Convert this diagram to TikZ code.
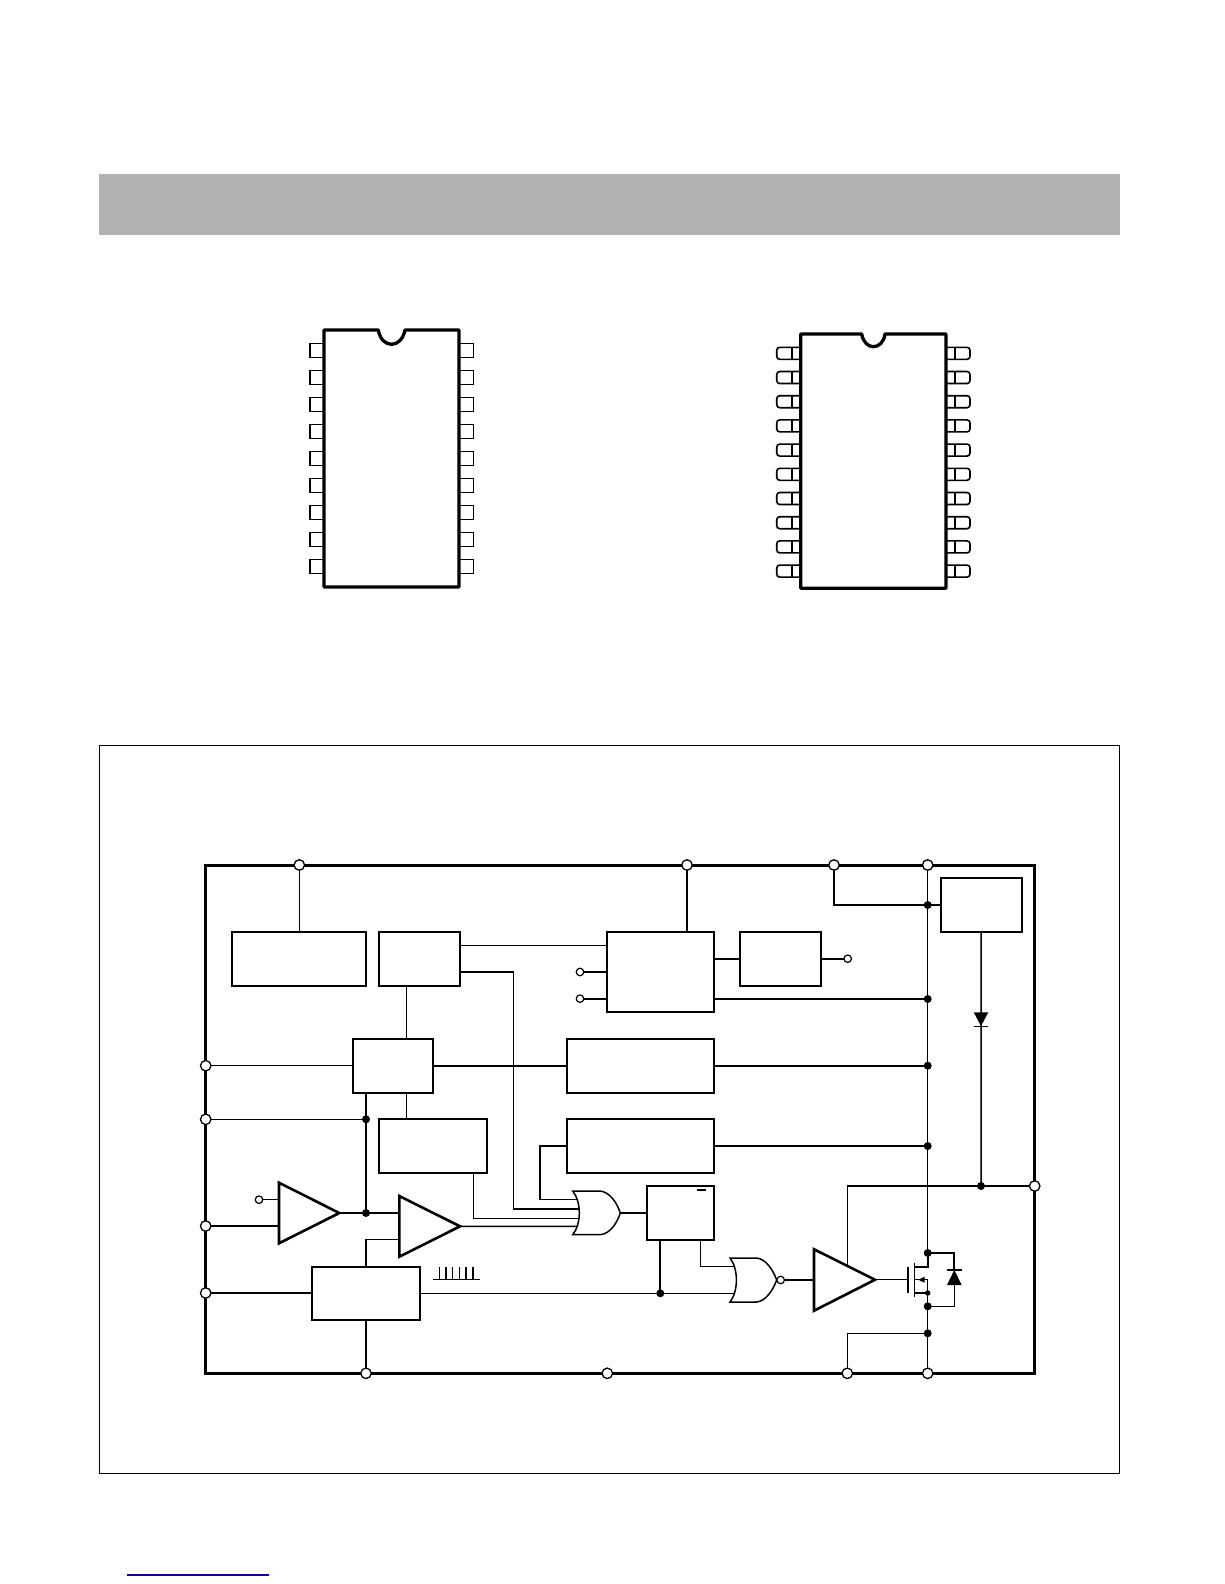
\documentclass[tikz,border=0pt]{standalone}
\usetikzlibrary{backgrounds}
\definecolor{hdrgray}{RGB}{178,178,178}
\definecolor{linkblue}{RGB}{10,10,140}
\tikzset{
  x=1pt,y=-1pt,
  blk/.style={draw=black,line width=2.2pt,rectangle,inner sep=0pt,outer sep=0pt},
  wire/.style={draw=black,line width=1.5pt},
  thickwire/.style={draw=black,line width=2pt},
  ampl/.style={draw=black,line width=2.6pt,fill=white,line join=miter},
  gatel/.style={draw=black,line width=1.5pt,fill=white,line join=miter},
  pinbig/.style={circle,draw=black,fill=white,line width=1.3pt,minimum size=10.5pt,inner sep=0pt,outer sep=0pt},
  pinsmall/.style={circle,draw=black,fill=white,line width=1.2pt,minimum size=7.5pt,inner sep=0pt,outer sep=0pt},
  jdot/.style={circle,fill=black,minimum size=8pt,inner sep=0pt,outer sep=0pt},
  jdotsm/.style={circle,fill=black,minimum size=5.5pt,inner sep=0pt,outer sep=0pt},
  icbody/.style={draw=black,line width=3.3pt,line join=round},
  iclead/.style={draw=black,line width=1.6pt},
  frameline/.style={draw=black,line width=3pt,line join=miter},
}
\begin{document}
\begin{tikzpicture}
\useasboundingbox (0,0) rectangle (1224,1584);
% header band and outer frame
\fill[hdrgray] (99,174) rectangle (1120,234.7);
\draw[black,line width=1.1pt] (99.3,745.3) rectangle (1119.3,1473.3);
\draw[linkblue,line width=1.3pt] (127,1575) -- (269,1575);

% DIP package
\foreach \i in {0,...,8}{
  \pgfmathsetmacro\yy{343.3+27*\i}
  \draw[iclead] (324,\yy) rectangle (310,\yy+14);
  \draw[iclead] (459,\yy) rectangle (473.3,\yy+14);
}
\draw[icbody,fill=white] (324,330) -- (378.3,330) .. controls (380,340) and (386,344.3) .. (391.65,344.3) .. controls (397,344.3) and (403,340) .. (405,330) -- (459,330) -- (459,587) -- (324,587) -- cycle;

% SOP package
\foreach \i in {0,...,9}{
  \pgfmathsetmacro\yy{347.3+24.2*\i}
  \draw[iclead,rounded corners=3pt] (800.7,\yy) -- (776.7,\yy) -- (776.7,\yy+12) -- (800.7,\yy+12);
  \draw[iclead] (791.7,\yy) -- (791.7,\yy+12);
  \draw[iclead,rounded corners=3pt] (946,\yy) -- (970,\yy) -- (970,\yy+12) -- (946,\yy+12);
  \draw[iclead] (955,\yy) -- (955,\yy+12);
}
\draw[icbody,fill=white] (800.7,334) -- (861.7,334) .. controls (863,342) and (868,346.7) .. (873.3,346.7) .. controls (879,346.7) and (884,342) .. (885,334) -- (946,334) -- (946,588.3) -- (800.7,588.3) -- cycle;

% function blocks
\node[blk,minimum width=134.3pt,minimum height=54.3pt] (A) at (298.85,958.85) {};
\node[blk,minimum width=81pt,minimum height=54.3pt] (B) at (419.5,958.85) {};
\node[blk,minimum width=80.6pt,minimum height=54.6pt] (C) at (393,1066) {};
\node[blk,minimum width=107.3pt,minimum height=80.6pt] (E) at (660.35,972) {};
\node[blk,minimum width=81pt,minimum height=54pt] (F) at (780.8,958.7) {};
\node[blk,minimum width=147.3pt,minimum height=54.6pt] (D) at (640.35,1066) {};
\node[blk,minimum width=147.3pt,minimum height=53.7pt] (K) at (640.35,1145.85) {};
\node[blk,minimum width=81pt,minimum height=53.7pt] (G) at (981.2,905.15) {};
\node[blk,minimum width=107.7pt,minimum height=53.7pt] (H) at (432.85,1145.85) {};
\node[blk,minimum width=67.3pt,minimum height=54.3pt] (J) at (680.35,1212.85) {};
\node[blk,minimum width=107.4pt,minimum height=53.3pt] (I) at (366,1293.35) {};

% outer pins
\node[pinbig] (pT1) at (299.3,865) {};
\node[pinbig] (pT2) at (687,865) {};
\node[pinbig] (pT3) at (834,865) {};
\node[pinbig] (pT4) at (927.7,865) {};
\node[pinbig] (pL1) at (205.7,1065.7) {};
\node[pinbig] (pL2) at (205.7,1119.3) {};
\node[pinbig] (pL3) at (205.7,1226) {};
\node[pinbig] (pL4) at (205.7,1293) {};
\node[pinbig] (pB1) at (366,1373.3) {};
\node[pinbig] (pB2) at (607.3,1373.3) {};
\node[pinbig] (pB3) at (847.3,1373.3) {};
\node[pinbig] (pB4) at (927.7,1373.3) {};
\node[pinbig] (pR) at (1034.7,1186) {};

% internal small pins
\node[pinsmall] (sE1) at (580,972) {};
\node[pinsmall] (sE2) at (580,998.7) {};
\node[pinsmall] (sF) at (847.7,958.7) {};
\node[pinsmall] (sA) at (259,1199.7) {};

% junctions
\node[jdot] (d1) at (927.7,905) {};
\node[jdot] (d2) at (927.7,999) {};
\node[jdot] (d3) at (927.7,1065.7) {};
\node[jdot] (d4) at (927.7,1146) {};
\node[jdot] (d5) at (981,1186) {};
\node[jdot] (d6) at (366,1119.3) {};
\node[jdot] (d7) at (366,1213) {};
\node[jdot] (d8) at (660.3,1293.3) {};
\node[jdot] (d9) at (927.7,1253) {};
\node[jdotsm] (d10) at (927.7,1293) {};
\node[jdot] (d11) at (927.7,1306.3) {};
\node[jdot] (d12) at (927.7,1333.3) {};

% gate and amplifier terminals
\coordinate (a1t) at (279,1182.7);
\coordinate (a1b) at (279,1243.3);
\coordinate (a1o) at (339.3,1213);
\coordinate (a2t) at (399.3,1196);
\coordinate (a2b) at (399.3,1256.7);
\coordinate (a2o) at (460,1226.3);
\coordinate (a3t) at (814,1249.3);
\coordinate (a3b) at (814,1310.7);
\coordinate (a3o) at (875,1279.7);
\coordinate (orO) at (620.3,1213);
\coordinate (norB) at (780.7,1280);
\coordinate (mGate) at (908,1279.7);
\coordinate (mDr) at (914.3,1266.7);
\coordinate (mSo) at (914.3,1293);
\coordinate (mBd) at (914.3,1279.7);

\begin{scope}[on background layer]
  \draw[frameline] (205.7,865) rectangle (1034.3,1373.3);
  % wiring, kept behind the open pin circles
  \draw[wire] (pT1.center) -- (A.north -| pT1);
  \draw[wire] (pT2.center) -- (E.north -| pT2);
  \draw[wire] (pT3.center) -- (pT3 |- d1) -- (d1.center) -- (G.west |- d1);
  \draw[wire] (pT4.center) -- (d9.center);
  \draw[wire] (B.east |- 0,945.3) -- (E.west |- 0,945.3);
  \draw[wire] (B.east |- 0,972) -- (513.3,972) -- (513.3,1209) -- (579,1209);
  \draw[wire] (sE1.center) -- (E.west |- sE1);
  \draw[thickwire] (sE2.center) -- (E.west |- sE2);
  \draw[thickwire] (E.east |- F.west) -- (F.west);
  \draw[thickwire] (F.east) -- (sF.center);
  \draw[thickwire] (E.east |- d2) -- (d2.center);
  \draw[wire] (406.3,986) -- (406.3,1038.7);
  \draw[wire] (pL1.center) -- (C.west |- pL1);
  \draw[thickwire] (C.east |- pL1) -- (D.west |- pL1);
  \draw[thickwire] (D.east |- d3) -- (d3.center);
  \draw[wire] (K.east |- d4) -- (d4.center);
  \draw[wire] (G.south) -- (d5.center);
  \draw[wire] (pL2.center) -- (d6.center);
  \draw[thickwire] (C.south -| d6) -- (d7.center);
  \draw[wire] (406.3,1093.3) -- (406.3,1119);
  \draw[wire] (K.west |- 0,1146) -- (540,1146) -- (540,1199.3) -- (577,1199.3);
  \draw[wire] (473.3,1172.7) -- (473.3,1218.3) -- (579,1218.3);
  \draw[wire] (sA.center) -- (a1t |- sA);
  \draw[wire] (pL3.center) -- (a1t |- pL3);
  \draw[wire] (a1o) -- (d7.center) -- (a2t |- d7);
  \draw[wire] (I.north) -- (366,1239.7) -- (399.3,1239.7);
  \draw[wire] (a2o) -- (577,1226.4);
  \draw[wire] (pL4.center) -- (I.west |- pL4);
  \draw[wire] (I.east |- d8) -- (d8.center) -- (734,1293.3);
  \draw[thickwire] (I.south) -- (pB1.center);
  \draw[wire] (orO) -- (J.west |- orO);
  \draw[thickwire] (660.3,1240) -- (d8.center);
  \draw[wire] (700.3,1240) -- (700.3,1266.3) -- (734,1266.3);
  \draw[wire] (norB) -- (a3t |- norB);
  \draw[wire] (847.3,1265) -- (847.3,1186) -- (pR.center);
  \draw[wire] (a3o) -- (mGate);
  \draw[thickwire] (927.7,1253) -- (927.7,1266.7) -- (mDr);
  \draw[wire] (mSo) -- (d10.center);
  \draw[wire] (mBd) -- (927.7,1279.7) -- (d11.center);
  \draw[wire] (d11.center) -- (pB4.center);
  \draw[wire] (d12.center) -- (847.3,1333.3) -- (pB3.center);
  \draw[thickwire] (d9.center) -- (954.3,1253) -- (954.3,1270);
  \draw[wire] (954.3,1285) -- (954.3,1306.3) -- (d11.center);
\end{scope}

% amplifiers
\draw[ampl] (a1t) -- (a1o) -- (a1b) -- cycle;
\draw[ampl] (a2t) -- (a2o) -- (a2b) -- cycle;
\draw[ampl] (a3t) -- (a3o) -- (a3b) -- cycle;

% OR gate
\draw[gatel] (572.7,1191) -- (600,1191) .. controls (610,1192) and (617,1203) .. (orO) .. controls (617,1223) and (610,1234) .. (600,1234.7) -- (572.7,1234.7) .. controls (581.5,1224) and (581.5,1202) .. (572.7,1191) -- cycle;
% NOR gate
\draw[gatel] (730,1258) -- (756.7,1258) .. controls (766,1259) and (773,1270) .. (776.7,1280) .. controls (773,1290) and (766,1301) .. (756.7,1302) -- (730,1302) .. controls (738.5,1291) and (738.5,1269) .. (730,1258) -- cycle;
\node[pinsmall] (norBub) at (norB) {};

% overbar in the latch block
\draw[line width=1.2pt] (696.7,1190) -- (706,1190);

% pulse-train symbol
\draw[line width=1.5pt] (433.3,1279.7) -- (479.7,1279.7);
\foreach \xx in {439.3,446,452.7,459.3,466,473}{
  \draw[line width=1.2pt] (\xx,1279.7) -- (\xx,1267.3);
}

% MOSFET
\draw[line width=1.2pt] (908,1266.7) -- (908,1292.7);
\draw[line width=1.2pt] (914.3,1262.7) -- (914.3,1296.7);
\fill[black] (918.3,1279.7) -- (924.5,1276.7) -- (924.5,1282.7) -- cycle;

% body diode
\fill[black] (954.3,1270) -- (961.7,1285) -- (947,1285) -- cycle;
\draw[line width=1.2pt] (947.3,1270) -- (962,1270);

% series diode
\fill[black] (973.7,1012.3) -- (988.3,1012.3) -- (981,1026) -- cycle;
\draw[line width=1.2pt] (973.7,1026.3) -- (988.3,1026.3);
\end{tikzpicture}
\end{document}
